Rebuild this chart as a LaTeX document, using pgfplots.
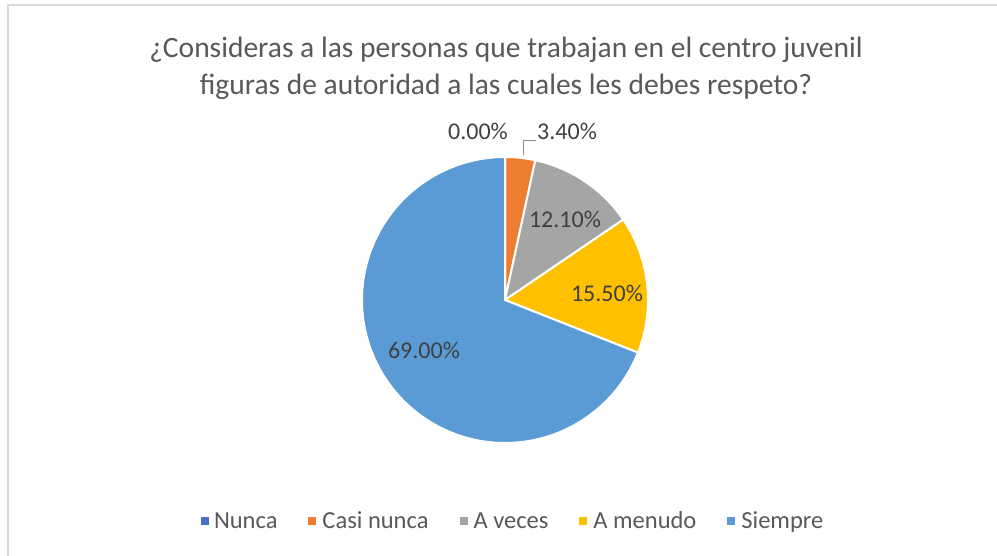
\documentclass[border=0pt]{standalone}
\usepackage{pgfplots}
\pgfplotsset{compat=1.18}
\usepackage{fontspec}
\setmainfont{Carlito}
\definecolor{cNunca}{HTML}{4472C4}
\definecolor{cCasi}{HTML}{ED7D31}
\definecolor{cAveces}{HTML}{A5A5A5}
\definecolor{cMenudo}{HTML}{FFC000}
\definecolor{cSiempre}{HTML}{5B9BD5}
\definecolor{txt}{HTML}{595959}
\definecolor{lbl}{HTML}{404040}
\definecolor{frame}{HTML}{D9D9D9}
\begin{document}
\begin{tikzpicture}[x=1pt,y=1pt]
\path[use as bounding box] (0,0) rectangle (997,556);
\draw[frame, line width=2pt] (8,0) -- (8,551) -- (997,551);
\node[anchor=base, text=txt, font=\fontsize{29.5}{34}\selectfont] at (506,498) {¿Consideras a las personas que trabajan en el centro juvenil};
\node[anchor=base, text=txt, font=\fontsize{29.5}{34}\selectfont] at (506,461) {figuras de autoridad a las cuales les debes respeto?};
\begin{axis}[
  at={(505pt,256pt)}, anchor=origin,
  x=1pt, y=1pt,
  xmin=-150, xmax=150, ymin=-150, ymax=150,
  hide axis, clip=false,
  legend columns=5,
  legend image code/.code={\fill[#1, draw=none] (0pt,-4pt) rectangle (8pt,4pt); \path (11pt,0pt);},
  legend style={draw=none, fill=none, at={(0.527,-0.237)}, anchor=center,
    font=\fontsize{24.5}{28}\selectfont, text=txt,
    /tikz/every even column/.append style={column sep=29pt},
    /tikz/every odd column/.append style={column sep=0pt}},
]
% percentages: Nunca 0, Casi nunca 3.4, A veces 12.1, A menudo 15.5, Siempre 69.0
\addlegendimage{fill=cNunca}
\addlegendentry{Nunca}
\addplot[fill=cCasi, draw=white, line width=2pt, domain=0:3.4, samples=10, variable=\t]
  ({143*sin(3.6*\t)}, {143*cos(3.6*\t)}) -- (axis cs:0,0) -- cycle;
\addlegendentry{Casi nunca}
\addplot[fill=cAveces, draw=white, line width=2pt, domain=3.4:15.5, samples=30, variable=\t]
  ({143*sin(3.6*\t)}, {143*cos(3.6*\t)}) -- (axis cs:0,0) -- cycle;
\addlegendentry{A veces}
\addplot[fill=cMenudo, draw=white, line width=2pt, domain=15.5:31.0, samples=40, variable=\t]
  ({143*sin(3.6*\t)}, {143*cos(3.6*\t)}) -- (axis cs:0,0) -- cycle;
\addlegendentry{A menudo}
\addplot[fill=cSiempre, draw=white, line width=2pt, domain=31.0:100, samples=150, variable=\t]
  ({143*sin(3.6*\t)}, {143*cos(3.6*\t)}) -- (axis cs:0,0) -- cycle;
\addlegendentry{Siempre}
\draw[txt!70, line width=1pt] (axis cs:18,145) -- (axis cs:18,159) -- (axis cs:31,159);
\node[text=lbl, font=\fontsize{24}{28}\selectfont] at (axis cs:-27,169) {0.00\%};
\node[text=lbl, font=\fontsize{24}{28}\selectfont, anchor=west, inner xsep=1pt] at (axis cs:31,169) {3.40\%};
\node[text=lbl, font=\fontsize{24}{28}\selectfont] at (axis cs:60,81) {12.10\%};
\node[text=lbl, font=\fontsize{24}{28}\selectfont] at (axis cs:102,7) {15.50\%};
\node[text=lbl, font=\fontsize{24}{28}\selectfont] at (axis cs:-81,-50) {69.00\%};
\end{axis}
\end{tikzpicture}
\end{document}
